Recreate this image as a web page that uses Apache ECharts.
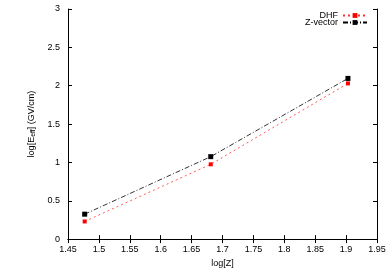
<!DOCTYPE html>
<html><head><meta charset="utf-8">
<script src="https://cdn.jsdelivr.net/npm/echarts@6/dist/echarts.min.js"></script>
<style>html,body{margin:0;padding:0;background:#fff}#c{width:391px;height:273px}</style>
</head><body><div id="c"></div>
<script>
const logZ = [1.477, 1.681, 1.903];
const dhf = [0.23, 0.975, 2.03];
const zvec = [0.325, 1.075, 2.095];
const xTicks = [1.45, 1.5, 1.55, 1.6, 1.65, 1.7, 1.75, 1.8, 1.85, 1.9, 1.95];
const yTicks = [0, 0.5, 1, 1.5, 2, 2.5, 3];

const font = 'Liberation Sans, Arial, sans-serif';
const chart = echarts.init(document.getElementById('c'), null, {renderer: 'canvas'});
const axisCommon = {
  axisLine: {show: true, lineStyle: {color: '#000', width: 1}},
  axisTick: {show: true, inside: true, length: 4, lineStyle: {color: '#000'}},
  splitLine: {show: false}
};
chart.setOption({
  animation: false,
  backgroundColor: '#fff',
  grid: {left: 68, top: 9, right: 14, bottom: 25},
  legend: {
    right: 18, top: 6, orient: 'vertical', align: 'right',
    itemWidth: 24, itemHeight: 6, itemGap: -2, padding: [5, 5, 5, 5],
    textStyle: {fontFamily: font, fontSize: 9, color: '#000'},
    data: ['DHF', 'Z-vector']
  },
  xAxis: [
    Object.assign({type: 'value', min: 1.45, max: 1.95, interval: 0.05,
      name: 'log[Z]', nameLocation: 'middle', nameGap: 18,
      nameTextStyle: {fontFamily: font, fontSize: 9, color: '#000'},
      axisLabel: {fontFamily: font, fontSize: 9, color: '#000', margin: 6,
        formatter: v => { const t = xTicks.find(x => Math.abs(x - v) < 1e-6); return t === undefined ? '' : String(t); }}
    }, axisCommon),
    Object.assign({type: 'value', min: 1.45, max: 1.95, interval: 0.05, position: 'top',
      axisLabel: {show: false}}, axisCommon)
  ],
  yAxis: [
    Object.assign({type: 'value', min: 0, max: 3, interval: 0.5,
      name: '{a|log[E}{s|eff}{a|] (GV/cm)}', nameLocation: 'middle', nameGap: 30, nameRotate: 90,
      nameTextStyle: {fontFamily: font, fontSize: 9, color: '#000',
        rich: {a: {fontFamily: font, fontSize: 9, color: '#000'},
               s: {fontFamily: font, fontSize: 7, color: '#000', padding: [0, 0, -4, 0]}}},
      axisLabel: {fontFamily: font, fontSize: 9, color: '#000', margin: 8,
        formatter: v => { const t = yTicks.find(x => Math.abs(x - v) < 1e-6); return t === undefined ? '' : String(t); }}
    }, axisCommon),
    Object.assign({type: 'value', min: 0, max: 3, interval: 0.5, position: 'right',
      axisLabel: {show: false}}, axisCommon)
  ],
  series: [
    {name: 'DHF', type: 'line', data: logZ.map((x, i) => [x, dhf[i]]),
      symbol: 'rect', symbolSize: 4, showSymbol: true,
      itemStyle: {color: '#ff0000'},
      lineStyle: {color: '#ff3030', width: 0.8, type: [2, 3]}},
    {name: 'Z-vector', type: 'line', data: logZ.map((x, i) => [x, zvec[i]]),
      symbol: 'rect', symbolSize: 5, showSymbol: true,
      itemStyle: {color: '#000'},
      lineStyle: {color: '#000', width: 0.8, type: [5, 2, 1, 2]}}
  ]
});
</script></body></html>
